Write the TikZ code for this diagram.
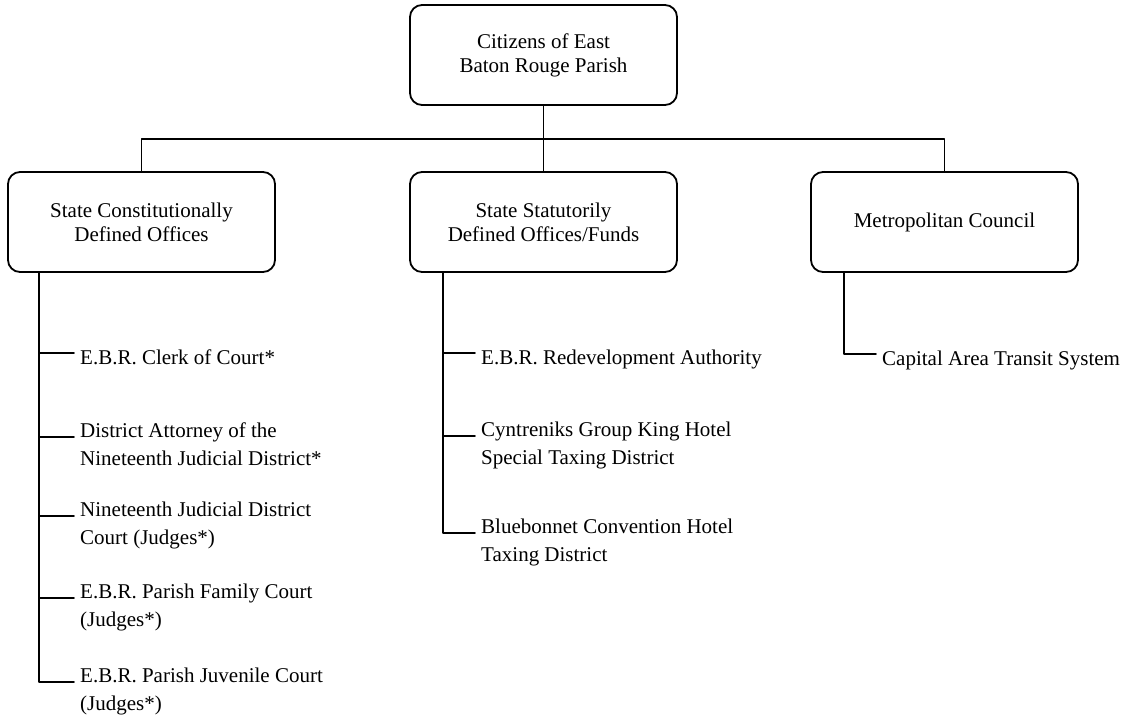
\documentclass[tikz,border=0pt]{standalone}
\usepackage{fontspec}
\setmainfont{Liberation Serif}
\begin{document}
\begin{tikzpicture}[x=1pt, y=-1pt, font=\fontsize{21}{24}\selectfont, line join=round, line cap=round,
	office/.style={draw, line width=1.8pt, rounded corners=12pt, minimum width=267pt, minimum height=100pt, align=center, inner sep=0pt},
	leaf/.style={anchor=base west, align=left, inner sep=0pt, font=\fontsize{21}{28.5}\selectfont},
	link/.style={line width=1.6pt}]
		\useasboundingbox (0,0) rectangle (1134,718);
		% boxes
		\node[office] (C) at (543.5,55) {Citizens of East\\Baton Rouge Parish};
		\node[office] (S) at (141.5,222) {State Constitutionally\\Defined Offices};
		\node[office] (F) at (543.5,222) {State Statutorily\\Defined Offices/Funds};
		\node[office] (M) at (944.5,222) {Metropolitan Council};
		\coordinate (bus) at (0,139);
		\draw[link] (C.south)--(F.north);
		\draw[link] (S.north)--(S.north |- bus)--(M.north |- bus)--(M.north);
		% stems
		\coordinate (sS) at ([xshift=32pt]S.south west);
		\coordinate (sF) at ([xshift=34pt]F.south west);
		\coordinate (sM) at ([xshift=34pt]M.south west);
		% leaves (base = last line)
		\node[leaf] (clerk) at (80,364) {E.B.R. Clerk of Court*};
		\node[leaf] (da) at (80,465.5) {District Attorney of the\\Nineteenth Judicial District*};
		\node[leaf] (jdc) at (80,544.5) {Nineteenth Judicial District\\Court (Judges*)};
		\node[leaf] (fam) at (80,626.5) {E.B.R. Parish Family Court\\(Judges*)};
		\node[leaf] (juv) at (80,710.5) {E.B.R. Parish Juvenile Court\\(Judges*)};
		\node[leaf] (rda) at (481,364) {E.B.R. Redevelopment Authority};
		\node[leaf] (king) at (481,464.5) {Cyntreniks Group King Hotel\\Special Taxing District};
		\node[leaf] (blue) at (481,561.5) {Bluebonnet Convention Hotel\\Taxing District};
		\node[leaf] (cats) at (882,365) {Capital Area Transit System};
		\draw[link] (sS) |- ([xshift=-6pt,yshift=11pt]clerk.base west);
		\foreach \n in {da,jdc,fam,juv}
			\draw[link] (sS) |- ([xshift=-6pt,yshift=28.5pt]\n.base west);
		\draw[link] (sF) |- ([xshift=-6pt,yshift=11pt]rda.base west);
		\foreach \n in {king,blue}
			\draw[link] (sF) |- ([xshift=-6pt,yshift=28.5pt]\n.base west);
		\draw[link] (sM) |- ([xshift=-6pt,yshift=11pt]cats.base west);
\end{tikzpicture}
\end{document}
